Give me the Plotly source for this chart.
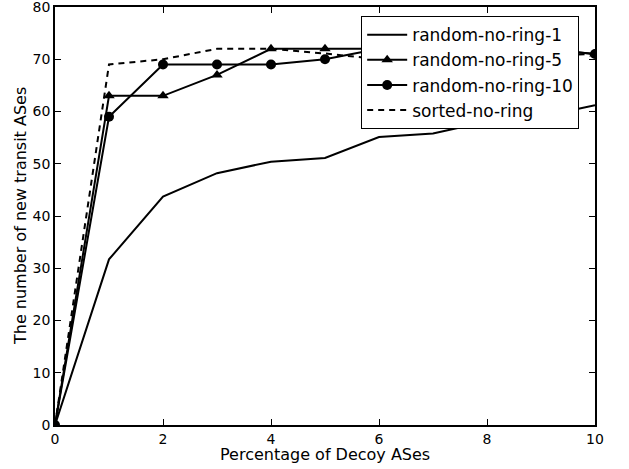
import plotly.graph_objects as go

pct = [0, 1, 2, 3, 4, 5, 6, 7, 8, 9, 10]
random_no_ring_1 = [0, 31.7, 43.7, 48.2, 50.4, 51.1, 55.1, 55.8, 58.1, 59.0, 61.2]
random_no_ring_5 = [0, 63, 63, 67, 72, 72, 72, 72, 72, 72, 71]
random_no_ring_10 = [0, 59, 69, 69, 69, 70, 72, 72, 72, 72, 71]
sorted_no_ring = [0, 69, 70, 72, 72, 71.1, 70.0, 70.5, 70.5, 70.8, 71]

x_ticks = [0, 2, 4, 6, 8, 10]
y_ticks = [0, 10, 20, 30, 40, 50, 60, 70, 80]
x_title = "Percentage of Decoy ASes"
y_title = "The number of new transit ASes"

FONT = "DejaVu Sans"

fig = go.Figure()
fig.add_trace(go.Scatter(x=pct, y=random_no_ring_1, mode="lines", name="random-no-ring-1",
                         line=dict(color="black", width=2)))
fig.add_trace(go.Scatter(x=pct, y=random_no_ring_5, mode="lines+markers", name="random-no-ring-5",
                         line=dict(color="black", width=2),
                         marker=dict(symbol="triangle-up", size=10, color="black")))
fig.add_trace(go.Scatter(x=pct, y=random_no_ring_10, mode="lines+markers", name="random-no-ring-10",
                         line=dict(color="black", width=2),
                         marker=dict(symbol="circle", size=10, color="black")))
fig.add_trace(go.Scatter(x=pct, y=sorted_no_ring, mode="lines", name="sorted-no-ring",
                         line=dict(color="black", width=2, dash="6px,5px")))

axis_common = dict(
    showline=True, linecolor="black", linewidth=1.5, mirror="allticks",
    ticks="inside", ticklen=6, tickwidth=1, tickcolor="black",
    showgrid=False, zeroline=False, automargin=False, ticklabeloverflow="allow",
    tickfont=dict(family=FONT, size=14, color="black"),
)

fig.update_layout(
    width=629, height=469,
    margin=dict(l=55, r=34, t=7, b=44),
    paper_bgcolor="white", plot_bgcolor="white",
    font=dict(family=FONT, color="black"),
    xaxis=dict(range=[0, 10], tickvals=x_ticks, ticktext=[str(v) for v in x_ticks], **axis_common),
    yaxis=dict(range=[0, 80], tickvals=y_ticks, ticktext=[str(v) for v in y_ticks], **axis_common),
    legend=dict(x=0.567, y=0.978, xanchor="left", yanchor="top",
                bgcolor="white", bordercolor="black", borderwidth=1,
                font=dict(family=FONT, size=17, color="black"),
                tracegroupgap=0, itemwidth=40),
    showlegend=True,
    annotations=[
        dict(text=x_title, xref="paper", yref="paper", x=0.5, y=-29 / 418,
             xanchor="center", yanchor="middle", showarrow=False,
             font=dict(family=FONT, size=16, color="black")),
        dict(text=y_title, xref="paper", yref="paper", x=-35 / 540, y=0.5,
             xanchor="center", yanchor="middle", showarrow=False, textangle=-90,
             font=dict(family=FONT, size=16, color="black")),
    ],
)

fig.write_html("out.html", config={"displayModeBar": False},
               post_script="document.body.style.margin='0';")
